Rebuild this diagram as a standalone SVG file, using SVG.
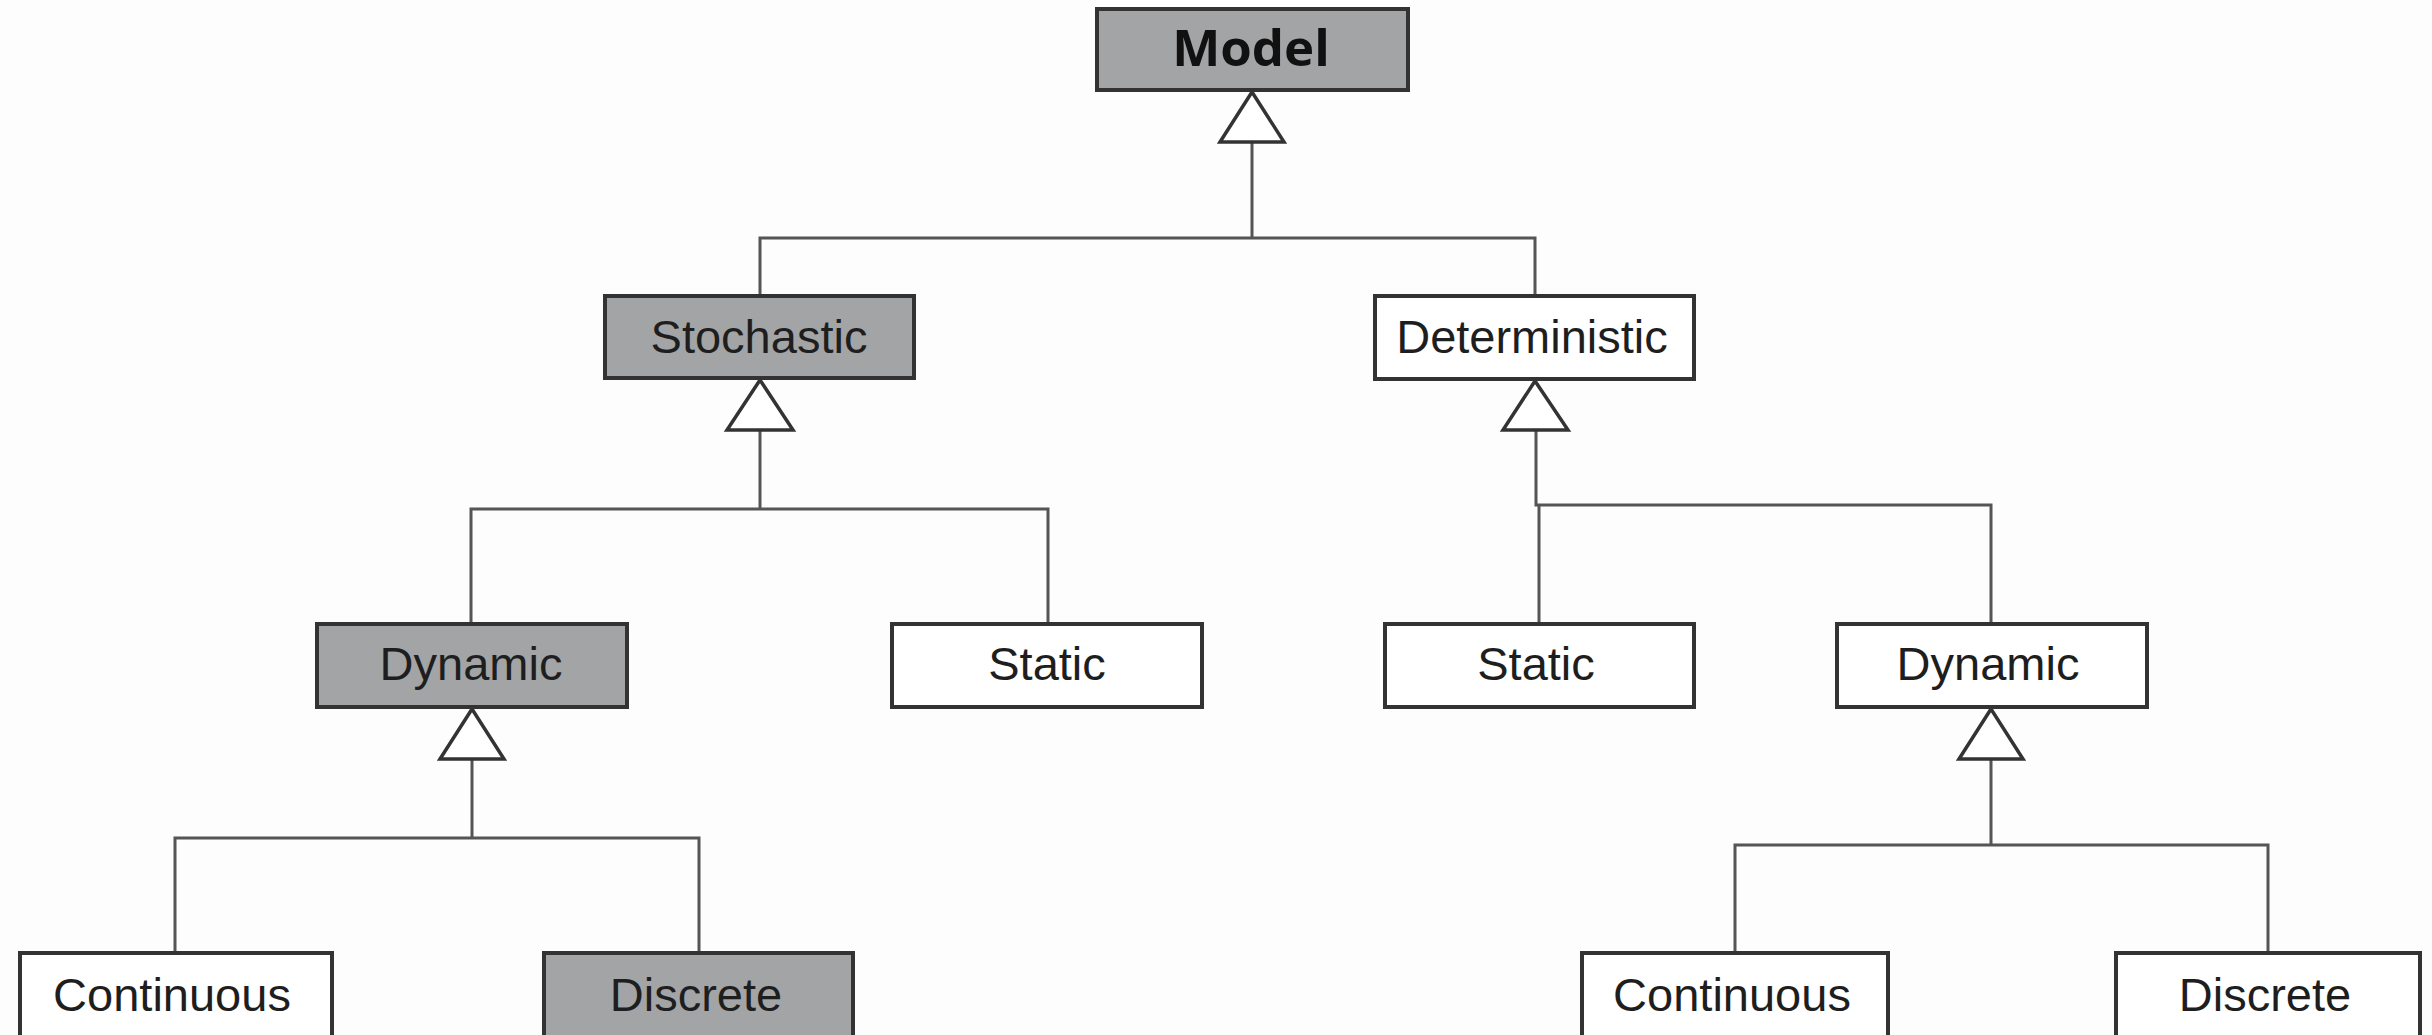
<svg xmlns="http://www.w3.org/2000/svg" width="2432" height="1035" viewBox="0 0 2432 1035">
<style>
.box{stroke:#333;stroke-width:4}
.gray{fill:#a3a4a6}
.white{fill:#ffffff}
.lbl{font-family:"Liberation Sans",Arial,sans-serif;font-size:47px;fill:#1e1e1e;text-anchor:middle}
.title{font-family:"Open Sans","Liberation Sans",sans-serif;font-size:51px;font-weight:bold;fill:#111;text-anchor:middle}
.line{stroke:#555;stroke-width:3;fill:none}
.tri{fill:#fff;stroke:#333;stroke-width:3.5;stroke-linejoin:miter}
</style>
<rect width="2432" height="1035" fill="#fdfdfd"/>
<g id="connectors">
<polyline class="line" points="1252,142 1252,238"/>
<polyline class="line" points="760,296 760,238 1535,238 1535,296"/>
<polyline class="line" points="760,430 760,509"/>
<polyline class="line" points="471,624 471,509 1048,509 1048,624"/>
<polyline class="line" points="1536,430 1536,505 1991,505 1991,624"/>
<polyline class="line" points="1539,505 1539,624"/>
<polyline class="line" points="472,759 472,838"/>
<polyline class="line" points="175,953 175,838 699,838 699,953"/>
<polyline class="line" points="1991,759 1991,845"/>
<polyline class="line" points="1735,953 1735,845 2268,845 2268,953"/>
<polygon class="tri" points="1252,92 1220,142 1284,142"/>
<polygon class="tri" points="760,380 727,430 793,430"/>
<polygon class="tri" points="1535,381 1503,430 1568,430"/>
<polygon class="tri" points="472,709 440,759 504,759"/>
<polygon class="tri" points="1991,709 1959,759 2023,759"/>
</g>
<g id="model"><rect class="box gray" x="1097" y="9" width="311" height="81"/><text class="title" x="1251" y="66">Model</text></g>
<g id="stochastic"><rect class="box gray" x="605" y="296" width="309" height="82"/><text class="lbl" x="759" y="353">Stochastic</text></g>
<g id="deterministic"><rect class="box white" x="1375" y="296" width="319" height="83"/><text class="lbl" x="1532" y="353">Deterministic</text></g>
<g id="stoch-dynamic"><rect class="box gray" x="317" y="624" width="310" height="83"/><text class="lbl" x="471" y="680">Dynamic</text></g>
<g id="stoch-static"><rect class="box white" x="892" y="624" width="310" height="83"/><text class="lbl" x="1047" y="680">Static</text></g>
<g id="det-static"><rect class="box white" x="1385" y="624" width="309" height="83"/><text class="lbl" x="1536" y="680">Static</text></g>
<g id="det-dynamic"><rect class="box white" x="1837" y="624" width="310" height="83"/><text class="lbl" x="1988" y="680">Dynamic</text></g>
<g id="stoch-continuous"><rect class="box white" x="20" y="953" width="312" height="90"/><text class="lbl" x="172" y="1011">Continuous</text></g>
<g id="stoch-discrete"><rect class="box gray" x="544" y="953" width="309" height="90"/><text class="lbl" x="696" y="1011">Discrete</text></g>
<g id="det-continuous"><rect class="box white" x="1582" y="953" width="306" height="90"/><text class="lbl" x="1732" y="1011">Continuous</text></g>
<g id="det-discrete"><rect class="box white" x="2116" y="953" width="304" height="90"/><text class="lbl" x="2265" y="1011">Discrete</text></g>
</svg>
